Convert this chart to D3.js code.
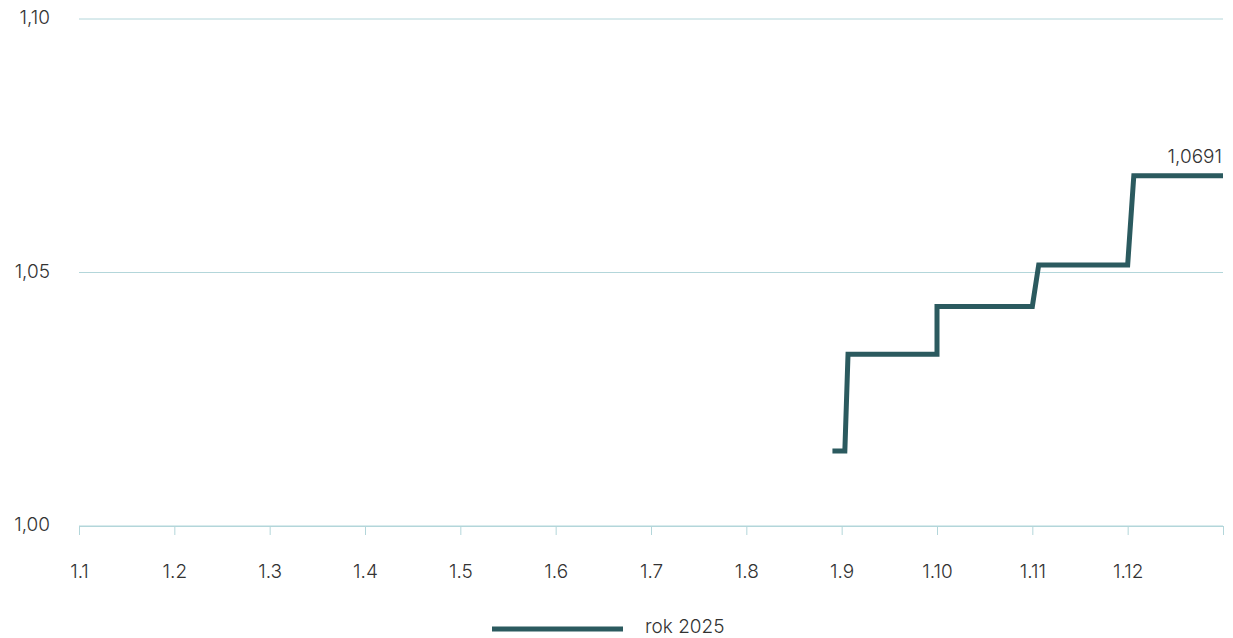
<!DOCTYPE html>
<html lang="cs">
<head>
<meta charset="utf-8">
<script src="https://cdn.jsdelivr.net/npm/d3@7"></script>
<style>
  html, body { margin: 0; padding: 0; background: #ffffff; }
  svg { display: block; font-family: Inter, "Open Sans", sans-serif; font-weight: 300; }
</style>
</head>
<body>
<svg id="chart" width="1233" height="638"></svg>
<script>
// Series: dates of observation and the index value on each date
const dates  = ["2025-08-29", "2025-09-02", "2025-09-03", "2025-10-01", "2025-10-01",
                "2025-11-01", "2025-11-03", "2025-12-01", "2025-12-03", "2026-01-01"];
const values = [1.0148, 1.0148, 1.0339, 1.0339, 1.0433,
                1.0433, 1.0515, 1.0515, 1.0691, 1.0691];

const seriesName = "rok 2025";
const monthLabels = ["1.1", "1.2", "1.3", "1.4", "1.5", "1.6", "1.7", "1.8", "1.9", "1.10", "1.11", "1.12"];
const yTicks = [1.00, 1.05, 1.10];
const lastLabel = "1,0691";

const colors = { line: "#2b5a5f", grid: "#b3d6da", text: "#333333" };
const fontSize = 19;

// Each month gets the same width on the axis; days are fractions of their month
function monthPosition(str) {
  const [y, m, d] = str.split("-").map(Number);
  const daysInMonth = new Date(y, m, 0).getDate();
  return (y - 2025) * 12 + (m - 1) + (d - 1) / daysInMonth;
}

const data = dates.map((d, i) => ({ t: monthPosition(d), v: values[i] }));

const svg = d3.select("#chart");
const x = d3.scaleLinear().domain([0, 12]).range([79, 1223]);
const y = d3.scaleLinear().domain([1.00, 1.10]).range([526, 19]);

const fmtComma = v => d3.format(".2f")(v).replace(".", ",");

// Horizontal gridlines
svg.append("g")
  .selectAll("line")
  .data(yTicks)
  .join("line")
  .attr("x1", x(0)).attr("x2", x(12))
  .attr("y1", d => y(d)).attr("y2", d => y(d))
  .attr("stroke", colors.grid)
  .attr("stroke-width", 1);

// Y labels
svg.append("g")
  .selectAll("text")
  .data(yTicks)
  .join("text")
  .attr("x", 50)
  .attr("y", d => y(d) + 5)
  .attr("text-anchor", "end")
  .attr("font-size", fontSize)
  .attr("fill", colors.text)
  .text(fmtComma);

// X axis
const xAxis = d3.axisBottom(x)
  .tickValues(d3.range(0, 13))
  .tickFormat(i => i < 12 ? monthLabels[i] : "")
  .tickSize(9)
  .tickSizeOuter(0)
  .tickPadding(30);

const gx = svg.append("g")
  .attr("transform", `translate(0,${y(1.00)})`)
  .call(xAxis);
gx.select(".domain").attr("stroke", colors.grid);
gx.selectAll(".tick line").attr("stroke", colors.grid);
gx.selectAll(".tick text")
  .attr("font-size", fontSize)
  .attr("font-family", "Inter, 'Open Sans', sans-serif")
  .attr("font-weight", 300)
  .attr("fill", colors.text);

// Series line
const line = d3.line().x(d => x(d.t)).y(d => y(d.v));
svg.append("path")
  .datum(data)
  .attr("d", line)
  .attr("fill", "none")
  .attr("stroke", colors.line)
  .attr("stroke-width", 5)
  .attr("stroke-linejoin", "miter");

// Value label at the end of the series
const last = data[data.length - 1];
svg.append("text")
  .attr("x", x(last.t) - 1)
  .attr("y", y(last.v) - 13)
  .attr("text-anchor", "end")
  .attr("font-size", fontSize)
  .attr("fill", colors.text)
  .text(lastLabel);

// Legend
const legend = svg.append("g");
legend.append("line")
  .attr("x1", 492).attr("x2", 623)
  .attr("y1", 629).attr("y2", 629)
  .attr("stroke", colors.line)
  .attr("stroke-width", 5);
legend.append("text")
  .attr("x", 645).attr("y", 633)
  .attr("font-size", fontSize)
  .attr("fill", colors.text)
  .text(seriesName);
</script>
</body>
</html>
